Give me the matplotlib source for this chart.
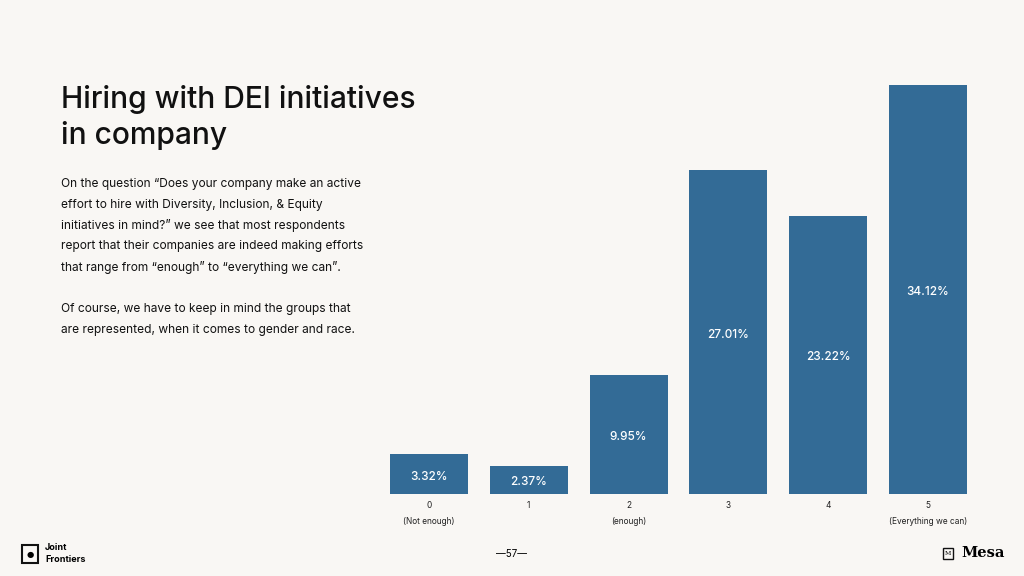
import matplotlib
matplotlib.use("Agg")
import matplotlib.pyplot as plt
from matplotlib.patches import Rectangle

categories = ["0", "1", "2", "3", "4", "5"]
sublabels = ["(Not enough)", "", "(enough)", "", "", "(Everything we can)"]
values = [3.32, 2.37, 9.95, 27.01, 23.22, 34.12]

BG = "#f9f7f4"
BAR = "#336b96"
W, H = 1024, 576
fig = plt.figure(figsize=(W/100, H/100), dpi=100, facecolor=BG)
font = "Inter"

x0, x1 = 379, 978
yb = 494
ytop = 85
ymax = 34.12 * (yb - 60) / (yb - ytop)
ax = fig.add_axes([x0/W, (H-yb)/H, (x1-x0)/W, 434/H])
ax.set_facecolor(BG)
ax.bar(range(6), values, width=0.78, color=BAR)
ax.set_xlim(-0.5, 5.5)
ax.set_ylim(0, ymax)
ax.axis("off")
px = ymax / 434
for i, v in enumerate(values):
    ax.text(i, v/2 - 2.5*px, f"{v:.2f}%", ha="center", va="center", color="white",
            fontsize=8.5, fontfamily=font, fontweight="medium")
    ax.text(i, -12*px, categories[i], ha="center", va="center",
            fontsize=6, fontfamily=font, color="#222")
    if sublabels[i]:
        ax.text(i, -27*px, sublabels[i], ha="center", va="center",
                fontsize=6, fontfamily=font, color="#222")

fig.text(61/W, 1-100/H, "Hiring with DEI initiatives", fontsize=21.6, fontfamily=font,
         va="center", color="#111", fontweight="medium")
fig.text(61/W, 1-136/H, "in company", fontsize=21.6, fontfamily=font,
         va="center", color="#111", fontweight="medium")
lines = ["On the question \u201cDoes your company make an active",
         "effort to hire with Diversity, Inclusion, & Equity",
         "initiatives in mind?\u201d we see that most respondents",
         "report that their companies are indeed making efforts",
         "that range from \u201cenough\u201d to \u201ceverything we can\u201d.",
         "",
         "Of course, we have to keep in mind the groups that",
         "are represented, when it comes to gender and race."]
for k, l in enumerate(lines):
    fig.text(61/W, 1-(184+k*20.8)/H, l, fontsize=8.6, fontfamily=font,
             va="center", color="#111")

fig.text(512/W, 1-554/H, "\u201457\u2014", fontsize=7, fontfamily=font, ha="center", va="center")
fig.patches.append(Rectangle((22/W, 1-563/H), 16/W, 18/H, transform=fig.transFigure,
                             fill=False, edgecolor="#111", linewidth=1.5))
fig.text(30/W, 1-554/H, "\u25cf", fontsize=6, ha="center", va="center")
fig.text(45/W, 1-548/H, "Joint", fontsize=6.5, fontfamily=font, va="center", fontweight="bold")
fig.text(45/W, 1-559/H, "Frontiers", fontsize=6.5, fontfamily=font, va="center", fontweight="bold")
fig.patches.append(Rectangle((943/W, 1-559/H), 10/W, 11/H, transform=fig.transFigure,
                             fill=False, edgecolor="#111", linewidth=1))
fig.text(948/W, 1-553.5/H, "M", fontsize=4.5, ha="center", va="center", fontfamily="DejaVu Serif")
fig.text(961/W, 1-553/H, "Mesa", fontsize=10.5, va="center", fontfamily="DejaVu Serif", fontweight="bold")

fig.savefig("out.png", dpi=100, facecolor=BG)
